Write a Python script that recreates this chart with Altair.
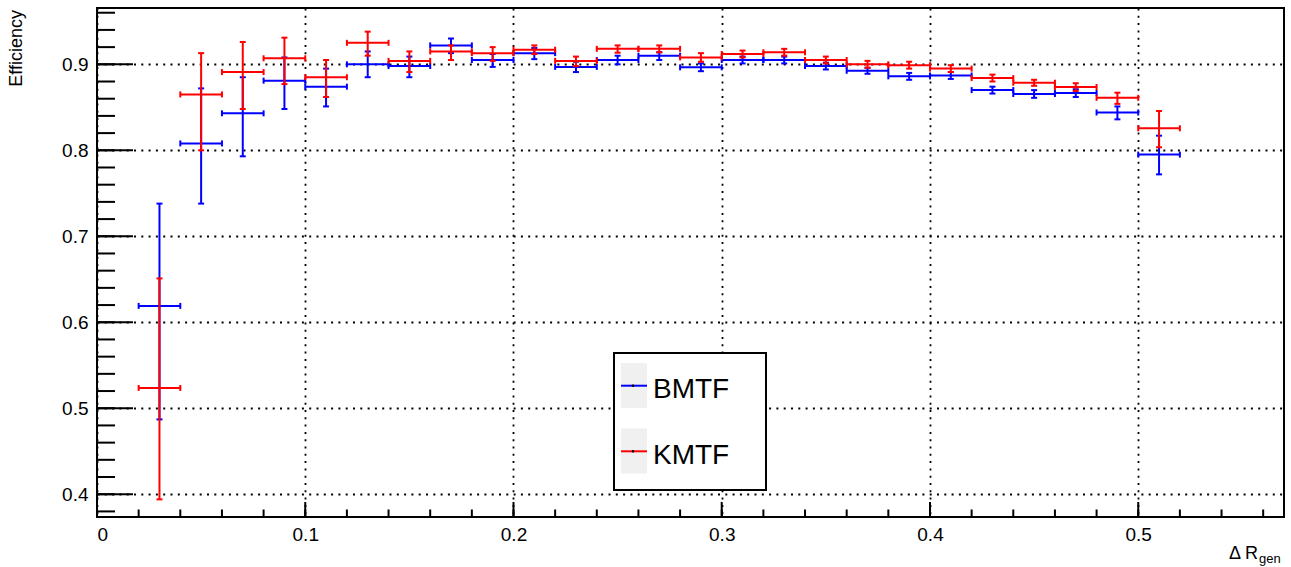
import altair as alt
import pandas as pd

# Bin centres in Delta R_gen (bin width 0.02)
centers = [0.03, 0.05, 0.07, 0.09, 0.11, 0.13, 0.15, 0.17, 0.19, 0.21, 0.23, 0.25, 0.27,
           0.29, 0.31, 0.33, 0.35, 0.37, 0.39, 0.41, 0.43, 0.45, 0.47, 0.49, 0.51]
bin_half_width = 0.01

# BMTF efficiency with lower / upper error limits
bmtf_eff = [0.619, 0.808, 0.843, 0.881, 0.874, 0.900, 0.898, 0.922, 0.905, 0.913, 0.897, 0.905, 0.910,
            0.8965, 0.905, 0.905, 0.898, 0.8925, 0.886, 0.887, 0.870, 0.8655, 0.8666, 0.844, 0.795]
bmtf_lo = [0.487, 0.738, 0.793, 0.848, 0.851, 0.885, 0.885, 0.913, 0.897, 0.906, 0.891, 0.900, 0.905,
           0.892, 0.901, 0.901, 0.894, 0.889, 0.882, 0.883, 0.866, 0.861, 0.862, 0.836, 0.772]
bmtf_hi = [0.738, 0.872, 0.885, 0.908, 0.895, 0.915, 0.909, 0.930, 0.912, 0.919, 0.903, 0.910, 0.914,
           0.901, 0.909, 0.909, 0.902, 0.896, 0.890, 0.891, 0.874, 0.870, 0.871, 0.851, 0.817]

# KMTF efficiency with lower / upper error limits
kmtf_eff = [0.5236, 0.865, 0.891, 0.907, 0.885, 0.925, 0.904, 0.915, 0.913, 0.917, 0.904, 0.918, 0.918,
            0.908, 0.912, 0.914, 0.905, 0.900, 0.899, 0.895, 0.884, 0.8786, 0.8736, 0.861, 0.8256]
kmtf_lo = [0.394, 0.800, 0.848, 0.877, 0.862, 0.910, 0.891, 0.905, 0.904, 0.912, 0.898, 0.9135, 0.914,
           0.903, 0.908, 0.910, 0.901, 0.896, 0.895, 0.891, 0.880, 0.875, 0.869, 0.854, 0.8035]
kmtf_hi = [0.651, 0.913, 0.926, 0.931, 0.905, 0.938, 0.915, 0.922, 0.920, 0.922, 0.909, 0.922, 0.922,
           0.913, 0.916, 0.918, 0.909, 0.904, 0.903, 0.899, 0.888, 0.882, 0.878, 0.867, 0.8457]

series_names = ["BMTF", "KMTF"]
series_colors = ["#0000ff", "#ff0000"]

# Axis tick values
x_major = [0.0, 0.1, 0.2, 0.3, 0.4, 0.5]
x_minor = [round(0.02 * i, 2) for i in range(29)]
y_major = [0.4, 0.5, 0.6, 0.7, 0.8, 0.9]
y_minor = [round(0.38 + 0.02 * i, 2) for i in range(30)]

W, H = 1187, 509
FONT = "Liberation Sans"

xscale = alt.Scale(domain=[0, 0.57], nice=False, zero=False)
yscale = alt.Scale(domain=[0.3735, 0.9655], nice=False, zero=False)

x_axis = alt.Axis(values=x_major, grid=True, gridColor="black", gridDash=[2, 5.3], gridWidth=1.8,
                  domain=False, ticks=False, labelFont=FONT, labelFontSize=19, labelColor="black",
                  labelPadding=8, title=None,
                  labelExpr="datum.value == 0 ? '0' : format(datum.value, '.1f')")
y_axis = alt.Axis(values=y_major, grid=True, gridColor="black", gridDash=[2, 5.3], gridWidth=1.8,
                  domain=False, ticks=False, labelFont=FONT, labelFontSize=19, labelColor="black",
                  labelPadding=9, title=None, format=".1f")

base_df = pd.DataFrame({"a": [0]})

# Invisible layer that carries the axes and grid
axes_layer = alt.Chart(pd.DataFrame({"x": x_major, "y": y_major})).mark_point(opacity=0).encode(
    x=alt.X("x:Q", scale=xscale, axis=x_axis),
    y=alt.Y("y:Q", scale=yscale, axis=y_axis),
)

# Ticks pointing into the frame
xt_major = alt.Chart(pd.DataFrame({"v": x_major})).mark_rule(color="black", strokeWidth=2).encode(
    x=alt.X("v:Q", scale=xscale), y=alt.value(H), y2=alt.value(H - 15))
xt_minor = alt.Chart(pd.DataFrame({"v": x_minor})).mark_rule(color="black", strokeWidth=2).encode(
    x=alt.X("v:Q", scale=xscale), y=alt.value(H), y2=alt.value(H - 7.5))
yt_major = alt.Chart(pd.DataFrame({"v": y_major})).mark_rule(color="black", strokeWidth=2).encode(
    y=alt.Y("v:Q", scale=yscale), x=alt.value(0), x2=alt.value(36))
yt_minor = alt.Chart(pd.DataFrame({"v": y_minor})).mark_rule(color="black", strokeWidth=2).encode(
    y=alt.Y("v:Q", scale=yscale), x=alt.value(0), x2=alt.value(18))


def series_layers(eff, lo, hi, color):
    df = pd.DataFrame({"c": centers, "eff": eff, "lo": lo, "hi": hi})
    base = alt.Chart(df).transform_calculate(
        xlo=f"datum.c - {bin_half_width}", xhi=f"datum.c + {bin_half_width}")
    sw = 2
    horiz = base.mark_rule(color=color, strokeWidth=sw).encode(
        x=alt.X("xlo:Q", scale=xscale), x2="xhi:Q", y=alt.Y("eff:Q", scale=yscale))
    vert = base.mark_rule(color=color, strokeWidth=sw).encode(
        x=alt.X("c:Q", scale=xscale), y=alt.Y("lo:Q", scale=yscale), y2="hi:Q")
    cap_hi = base.mark_rule(color=color, strokeWidth=sw, xOffset=-3, x2Offset=3).encode(
        x=alt.X("c:Q", scale=xscale), x2="c:Q", y=alt.Y("hi:Q", scale=yscale))
    cap_lo = base.mark_rule(color=color, strokeWidth=sw, xOffset=-3, x2Offset=3).encode(
        x=alt.X("c:Q", scale=xscale), x2="c:Q", y=alt.Y("lo:Q", scale=yscale))
    end_l = base.mark_rule(color=color, strokeWidth=sw, yOffset=-3, y2Offset=3).encode(
        x=alt.X("xlo:Q", scale=xscale), y=alt.Y("eff:Q", scale=yscale), y2="eff:Q")
    end_r = base.mark_rule(color=color, strokeWidth=sw, yOffset=-3, y2Offset=3).encode(
        x=alt.X("xhi:Q", scale=xscale), y=alt.Y("eff:Q", scale=yscale), y2="eff:Q")
    return [horiz, vert, cap_hi, cap_lo, end_l, end_r]


bmtf = series_layers(bmtf_eff, bmtf_lo, bmtf_hi, series_colors[0])
kmtf = series_layers(kmtf_eff, kmtf_lo, kmtf_hi, series_colors[1])

# Legend box
leg_box = alt.Chart(base_df).mark_rect(fill="white", stroke="black", strokeWidth=2).encode(
    x=alt.value(517), x2=alt.value(669), y=alt.value(345), y2=alt.value(482))

leg_df = pd.DataFrame({"name": series_names, "color": series_colors, "row": [0, 1]})
leg_base = alt.Chart(leg_df).transform_calculate(
    top="355 + datum.row * 65.5",
    bottom="400 + datum.row * 65.5",
    mid="377.7 + datum.row * 65.6",
    base="390.3 + datum.row * 65.7",
)
leg_swatch = leg_base.mark_rect(fill="#f0f0f0").encode(
    x=alt.value(524), x2=alt.value(550),
    y=alt.Y("top:Q", scale=None), y2="bottom:Q")
leg_line = leg_base.mark_rule(strokeWidth=2).encode(
    x=alt.value(524), x2=alt.value(550),
    y=alt.Y("mid:Q", scale=None),
    color=alt.Color("color:N", scale=None))
leg_dot = leg_base.mark_square(size=5, color="black", opacity=1).encode(
    x=alt.value(536), y=alt.Y("mid:Q", scale=None))
leg_text = leg_base.mark_text(align="left", baseline="alphabetic", font=FONT, fontSize=28,
                              color="black").encode(
    x=alt.value(556), y=alt.Y("base:Q", scale=None), text="name:N")

# Axis titles
y_title = alt.Chart(base_df).mark_text(text="Efficiency", angle=270, align="right", baseline="middle",
                                        font=FONT, fontSize=18, color="black").encode(
    x=alt.value(-80), y=alt.value(2))
x_title = alt.Chart(base_df).mark_text(text="\u0394 R", align="right", baseline="alphabetic",
                                        font=FONT, fontSize=18, color="black").encode(
    x=alt.value(1161), y=alt.value(551))
x_title_sub = alt.Chart(base_df).mark_text(text="gen", align="left", baseline="alphabetic",
                                            font=FONT, fontSize=13, color="black").encode(
    x=alt.value(1162), y=alt.value(555))

chart = alt.layer(
    axes_layer, xt_major, xt_minor, yt_major, yt_minor,
    *bmtf, *kmtf,
    leg_box, leg_swatch, leg_line, leg_dot, leg_text,
    y_title, x_title, x_title_sub,
).properties(
    width=W, height=H,
    autosize=alt.AutoSizeParams(type="none"),
    padding={"left": 97, "top": 8, "right": 7, "bottom": 50},
    background="white",
).configure_view(stroke="black", strokeWidth=2)

chart.save("out.html", embed_options={"renderer": "svg", "actions": False})
